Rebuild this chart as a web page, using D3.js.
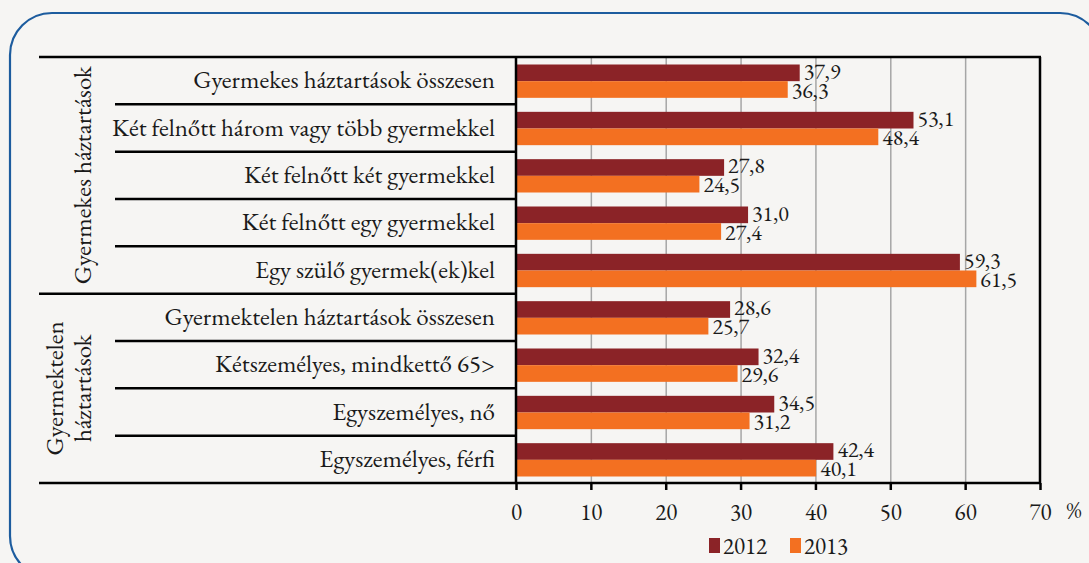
<!DOCTYPE html>
<html>
<head>
<meta charset="utf-8">
<script src="https://cdn.jsdelivr.net/npm/d3@7"></script>
<style>
  body { margin: 0; background: #f6f5f3; }
  svg { display: block; }
</style>
</head>
<body>
<script>
const categories = [
  'Gyermekes háztartások összesen',
  'Két felnőtt három vagy több gyermekkel',
  'Két felnőtt két gyermekkel',
  'Két felnőtt egy gyermekkel',
  'Egy szülő gyermek(ek)kel',
  'Gyermektelen háztartások összesen',
  'Kétszemélyes, mindkettő 65>',
  'Egyszemélyes, nő',
  'Egyszemélyes, férfi'
]
const values2012 = [37.9, 53.1, 27.8, 31.0, 59.3, 28.6, 32.4, 34.5, 42.4]
const values2013 = [36.3, 48.4, 24.5, 27.4, 61.5, 25.7, 29.6, 31.2, 40.1]
const years = ['2012', '2013']
const groupNames = [['Gyermekes háztartások'], ['Gyermektelen', 'háztartások']]
const groupSizes = [5, 4]
const xTicks = [0, 10, 20, 30, 40, 50, 60, 70]

const w = 1089
const h = 563
const plotLeft = 516, plotRight = 1040, plotTop = 57, plotBottom = 483
const colors = { '2012': '#8b2327', '2013': '#f37021' }
const font = '"EB Garamond", "Liberation Serif", serif'
const ink = '#1a1a1a'
const fmt = v => d3.format('.1f')(v).replace('.', ',')

const svg = d3.select('body').append('svg')
  .attr('width', w)
  .attr('height', h)
  .attr('font-family', font)

// outer frame
svg.append('rect')
  .attr('x', 10).attr('y', 13)
  .attr('width', 1092).attr('height', 565)
  .attr('rx', 42)
  .attr('fill', '#f6f5f3')
  .attr('stroke', '#1d5c9e')
  .attr('stroke-width', 2.2)

const x = d3.scaleLinear().domain([0, 70]).range([plotLeft, plotRight])
const y = d3.scaleBand().domain(categories).range([plotTop, plotBottom])
const yInner = d3.scaleBand().domain(years).range([7.5, y.bandwidth() - 6.5])

// gridlines
svg.append('g')
  .attr('transform', `translate(0,${plotBottom})`)
  .call(d3.axisBottom(x).tickValues(xTicks.slice(1, -1)).tickSize(-(plotBottom - plotTop)).tickFormat(''))
  .call(g => g.select('.domain').remove())
  .call(g => g.selectAll('line').attr('stroke', '#a6a6a6').attr('stroke-width', 1.5))

// bars
const rows = categories.map((c, i) => ({ c, v: [values2012[i], values2013[i]] }))
const rowG = svg.selectAll('g.row')
  .data(rows)
  .enter()
  .append('g')
  .attr('class', 'row')
  .attr('transform', d => `translate(0,${y(d.c)})`)

years.forEach((yr, k) => {
  rowG.append('rect')
    .attr('x', x(0))
    .attr('y', yInner(yr))
    .attr('width', d => x(d.v[k]) - x(0))
    .attr('height', yInner.bandwidth())
    .attr('fill', colors[yr])
})
const labelShift = [-2.5, 0]
years.forEach((yr, k) => {
  rowG.append('text')
    .attr('x', d => x(d.v[k]) + 4)
    .attr('y', yInner(yr) + yInner.bandwidth() + labelShift[k])
    .attr('font-size', 22)
    .attr('font-family', font)
    .style('font-variant-numeric', 'lining-nums')
    .attr('fill', ink)
    .text(d => fmt(d.v[k]))
})

// plot frame
svg.append('line').attr('x1', 39).attr('x2', plotRight + 1).attr('y1', plotTop).attr('y2', plotTop)
  .attr('stroke', '#000').attr('stroke-width', 2.5)
svg.append('line').attr('x1', plotRight).attr('x2', plotRight).attr('y1', plotTop).attr('y2', plotBottom)
  .attr('stroke', '#000').attr('stroke-width', 2.5)
svg.append('line').attr('x1', plotLeft).attr('x2', plotLeft).attr('y1', plotTop).attr('y2', plotBottom)
  .attr('stroke', '#000').attr('stroke-width', 2.5)

// category separators
const groupStarts = []
let acc = 0
groupSizes.forEach(s => { groupStarts.push(acc); acc += s })
categories.forEach((c, i) => {
  if (i === 0) return
  const isGroup = groupStarts.includes(i)
  svg.append('line')
    .attr('x1', isGroup ? 39 : 115).attr('x2', plotLeft)
    .attr('y1', y(c)).attr('y2', y(c))
    .attr('stroke', '#000').attr('stroke-width', 2.5)
})

// category labels
svg.selectAll('text.cat')
  .data(categories)
  .enter()
  .append('text')
  .attr('class', 'cat')
  .attr('x', 495)
  .attr('y', d => y(d) + y.bandwidth() / 2)
  .attr('dy', '0.3em')
  .attr('text-anchor', 'end')
  .attr('font-size', 25)
  .attr('font-family', font)
  .attr('fill', ink)
  .text(d => d)

// group labels
groupNames.forEach((lines, gi) => {
  const first = categories[groupStarts[gi]]
  const last = categories[groupStarts[gi] + groupSizes[gi] - 1]
  const cy = (y(first) + y(last) + y.bandwidth()) / 2
  const n = lines.length
  lines.forEach((t, li) => {
    const cx = 83 - (n - 1 - li) * 28
    svg.append('text')
      .attr('transform', `translate(${cx},${cy}) rotate(-90)`)
      .attr('text-anchor', 'middle')
      .attr('dy', '0.3em')
      .attr('font-size', 25)
      .attr('font-family', font)
      .attr('fill', ink)
      .text(t)
  })
})

// bottom axis
svg.append('g')
  .attr('transform', `translate(0,${plotBottom})`)
  .call(d3.axisBottom(x).tickValues(xTicks).tickSize(7).tickPadding(14).tickFormat(d => d))
  .call(g => g.select('.domain').remove())
  .call(g => g.selectAll('line').attr('stroke', '#000').attr('stroke-width', 2.5))
  .call(g => g.selectAll('text').attr('font-size', 23).attr('fill', ink)
    .attr('font-family', font).style('font-variant-numeric', 'lining-nums'))
svg.append('line').attr('x1', 39).attr('x2', plotRight + 1).attr('y1', plotBottom).attr('y2', plotBottom)
  .attr('stroke', '#000').attr('stroke-width', 2.5)
svg.append('text')
  .attr('x', 1074).attr('y', 518)
  .attr('text-anchor', 'middle')
  .attr('font-size', 23)
  .attr('font-family', font)
  .attr('fill', ink)
  .text('%')

// legend
const legend = svg.append('g').attr('transform', 'translate(709,538)')
years.forEach((yr, i) => {
  const g = legend.append('g').attr('transform', `translate(${i * 81},0)`)
  g.append('rect').attr('width', 11).attr('height', 15).attr('fill', colors[yr])
  g.append('text').attr('x', 14).attr('y', 15.5)
    .attr('font-size', 23).attr('font-family', font)
    .style('font-variant-numeric', 'lining-nums')
    .attr('fill', ink).text(yr)
})
</script>
</body>
</html>
